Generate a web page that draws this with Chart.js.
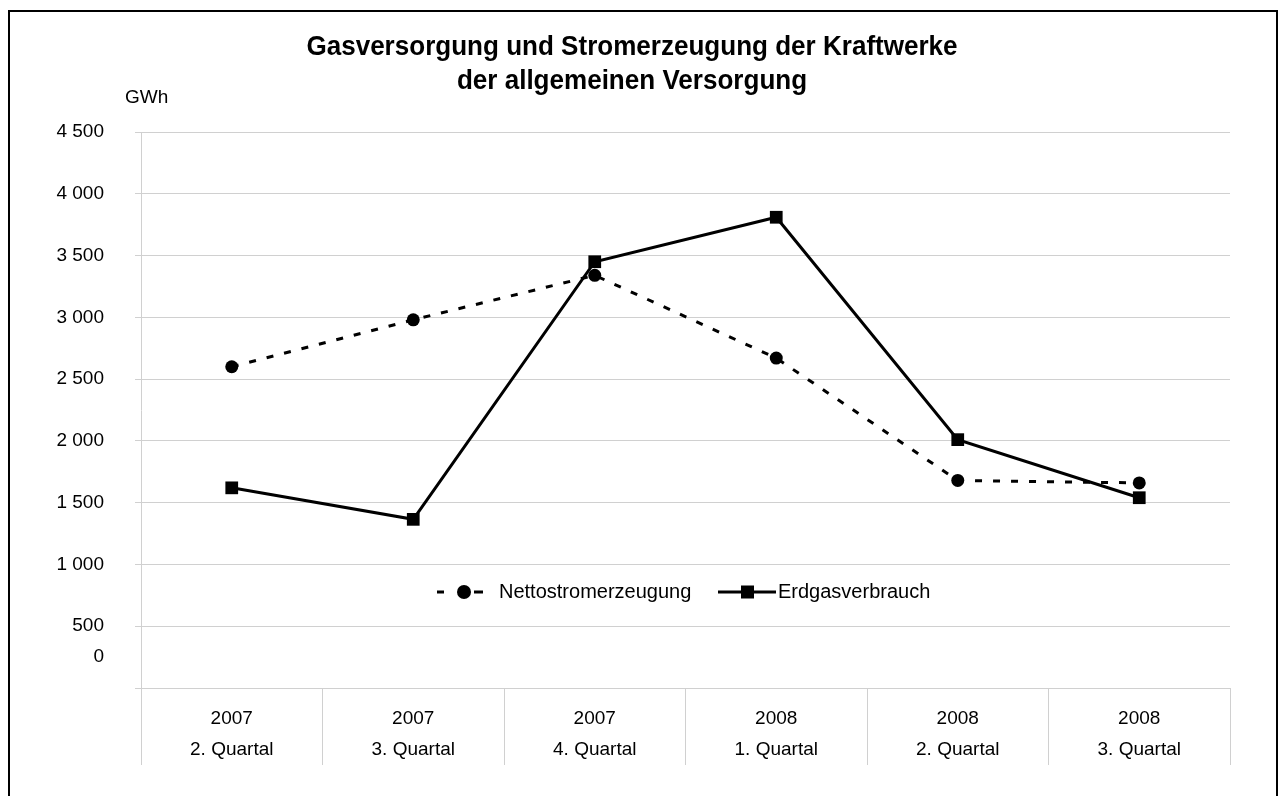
<!DOCTYPE html>
<html>
<head>
<meta charset="utf-8">
<script src="https://cdn.jsdelivr.net/npm/chart.js@4.4.0/dist/chart.umd.min.js"></script>
<style>
    html, body { margin: 0; padding: 0; background: #fff; overflow: hidden; }
    #wrap { position: relative; width: 1280px; height: 796px; }
    #chart { position: absolute; left: 0; top: 0; }
    #frame { position: absolute; left: 8px; top: 10px; width: 1270px; height: 820px;
             border: 2px solid #000; box-sizing: border-box; pointer-events: none; }
</style>
</head>
<body>
<div id="wrap">
    <canvas id="chart" width="1280" height="796"></canvas>
    <div id="frame"></div>
</div>
<script>
const years = ['2007', '2007', '2007', '2008', '2008', '2008'];
const quarters = ['2. Quartal', '3. Quartal', '4. Quartal', '1. Quartal', '2. Quartal', '3. Quartal'];
const netto = [2600, 2980, 3340, 2670, 1680, 1660];
const erdgas = [1620, 1365, 3450, 3810, 2010, 1540];
const titleLines = ['Gasversorgung und Stromerzeugung der Kraftwerke', 'der allgemeinen Versorgung'];
const unitLabel = 'GWh';

const font_family = '"Liberation Sans", Arial, Helvetica, sans-serif';
const grid_color = '#d0d0d0';

let chart_element = document.getElementById('chart');

fmt = v => {
    // 4500 -> "4 500"
    return String(v).replace(/\B(?=(\d{3})+(?!\d))/g, ' ');
};

const overlay = {
    id: 'overlay',
    afterDraw(chart) {
        const ctx = chart.ctx;
        const area = chart.chartArea;
        const y = chart.scales.y;
        ctx.save();
        ctx.fillStyle = '#000';

        // title, a bit narrower than plain bold
        ctx.font = 'bold 28px ' + font_family;
        ctx.textAlign = 'center';
        ctx.textBaseline = 'middle';
        titleLines.forEach((t, i) => {
            ctx.save();
            ctx.translate(632, 47 + i * 34);
            ctx.scale(0.93, 1);
            ctx.fillText(t, 0, 0);
            ctx.restore();
        });

        // unit
        ctx.font = '19px ' + font_family;
        ctx.textAlign = 'left';
        ctx.fillText(unitLabel, 125, 98);

        // the "0" label sits a little above the axis in the original
        ctx.textAlign = 'right';
        ctx.fillText('0', area.left - 37, y.getPixelForValue(250));

        // legend inside the plot
        const ly = area.bottom - 96;
        const ds = chart.data.datasets;
        ctx.font = '20px ' + font_family;
        ctx.lineWidth = 3;
        ctx.strokeStyle = '#000';
        ctx.beginPath();
        ctx.moveTo(437, ly);
        ctx.lineTo(444, ly);
        ctx.moveTo(474, ly);
        ctx.lineTo(483, ly);
        ctx.stroke();
        ctx.beginPath();
        ctx.arc(464, ly, 7, 0, Math.PI * 2);
        ctx.fill();
        ctx.textAlign = 'left';
        ctx.fillText(ds[0].label, 499, ly);

        ctx.beginPath();
        ctx.moveTo(718, ly);
        ctx.lineTo(776, ly);
        ctx.stroke();
        ctx.fillRect(741, ly - 6.5, 13, 13);
        ctx.fillText(ds[1].label, 778, ly);
        ctx.restore();
    }
};

new Chart(chart_element, {
    type: 'line',
    data: {
        labels: years.map((yr, i) => [yr, quarters[i]]),
        datasets: [{
            label: 'Nettostromerzeugung',
            data: netto,
            borderColor: '#000',
            backgroundColor: '#000',
            borderWidth: 3,
            borderDash: [7, 11],
            pointStyle: 'circle',
            pointRadius: 6.5,
            pointBorderWidth: 0,
            tension: 0
        }, {
            label: 'Erdgasverbrauch',
            data: erdgas,
            borderColor: '#000',
            backgroundColor: '#000',
            borderWidth: 3,
            pointStyle: 'rect',
            pointRadius: 9,
            pointBorderWidth: 0,
            tension: 0
        }]
    },
    options: {
        responsive: false,
        animation: false,
        layout: { padding: { left: 21, right: 50, top: 132, bottom: 0 } },
        plugins: {
            legend: { display: false },
            tooltip: { enabled: false },
            title: { display: false }
        },
        scales: {
            x: {
                offset: true,
                afterFit: s => { s.height = 108; },
                grid: { offset: true, drawOnChartArea: false, tickLength: 77, color: grid_color },
                border: { color: grid_color },
                ticks: {
                    padding: -62,
                    color: '#000',
                    maxRotation: 0,
                    autoSkip: false,
                    font: { size: 19, family: font_family, lineHeight: 1.63 }
                }
            },
            y: {
                min: 0,
                max: 4500,
                afterFit: s => { s.width = 120; },
                grid: { color: grid_color, tickLength: 6 },
                border: { color: grid_color },
                ticks: {
                    stepSize: 500,
                    padding: 31,
                    color: '#000',
                    font: { size: 19, family: font_family },
                    callback: v => v === 0 ? '' : fmt(v)
                }
            }
        }
    },
    plugins: [overlay]
});
</script>
</body>
</html>
